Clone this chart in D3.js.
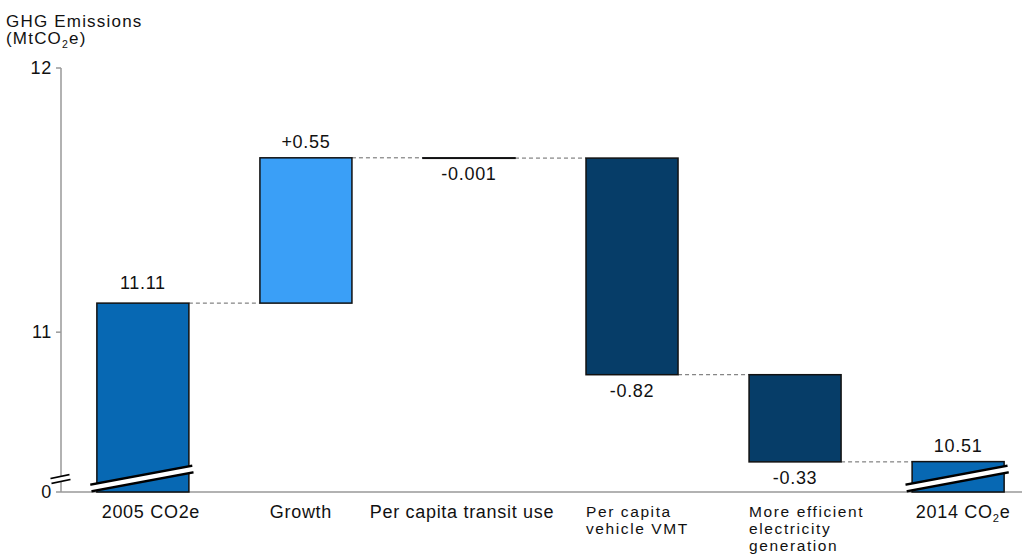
<!DOCTYPE html>
<html>
<head>
<meta charset="utf-8">
<script src="https://cdn.jsdelivr.net/npm/d3@7"></script>
<style>
  body { margin: 0; background: #fff; }
  text { font-family: "Liberation Sans", Arial, sans-serif; fill: #111; letter-spacing: 0.7px; }
</style>
</head>
<body>
<svg id="chart" width="1027" height="556"></svg>
<script>
// data
const categories = ["2005 CO2e", "Growth", "Per capita transit use", "Per capita vehicle VMT", "More efficient electricity generation", "2014 CO2e"];
const labelLines = [["2005 CO2e"], ["Growth"], ["Per capita transit use"], ["Per capita", "vehicle VMT"], ["More efficient", "electricity", "generation"], ["2014 CO_2e"]];
const kinds = ["total", "delta", "delta", "delta", "delta", "total"];
const values = [11.11, 0.55, -0.001, -0.82, -0.33, 10.51];
const valueLabels = ["11.11", "+0.55", "-0.001", "-0.82", "-0.33", "10.51"];
const yTicks = [11, 12];
const axisFloor = 10.395; // shown as "0" (broken axis)

const colors = {total: "#0768b3", up: "#3a9ff7", down: "#063d68"};
const labelNudge = [8, -5, -7, 0, 0, 5];

const svg = d3.select("#chart");
const width = 1027, height = 556;
const margin = {top: 68, right: 7, bottom: 64, left: 61};

var x = d3.scaleBand()
    .domain(categories)
    .range([margin.left, 1040])
    .paddingInner(0.4356)
    .paddingOuter(0.22);

var y = d3.scaleLinear()
    .domain([axisFloor, 12])
    .range([height - margin.bottom, margin.top]);

// build waterfall steps
let running = 0;
const bars = values.map((v, i) => {
    let start, end;
    if (kinds[i] == "total") { start = axisFloor; end = v; running = v; }
    else { start = running; end = running + v; running = end; }
    return {cat: categories[i], kind: kinds[i], value: v, start: start, end: end, label: valueLabels[i], lines: labelLines[i]};
});

function barColor(d) {
    if (d.kind == "total") return colors.total;
    return d.value > 0 ? colors.up : colors.down;
}

// writes "CO_2e" style strings with a lowered small 2
function subText(sel, str, size) {
    const parts = str.split("_");
    sel.append("tspan").text(parts[0]);
    for (let k = 1; k < parts.length; k++) {
        sel.append("tspan").attr("dy", 4).style("font-size", (size * 0.62) + "px").text(parts[k][0]);
        sel.append("tspan").attr("dy", -4).text(parts[k].slice(1));
    }
}

// axes
const axisColor = "#999";
svg.append("line")
    .attr("x1", margin.left).attr("x2", margin.left)
    .attr("y1", y(12)).attr("y2", y(axisFloor))
    .attr("stroke", axisColor).attr("stroke-width", 1.5);
svg.append("line")
    .attr("x1", margin.left).attr("x2", width - 5)
    .attr("y1", y(axisFloor)).attr("y2", y(axisFloor))
    .attr("stroke", axisColor).attr("stroke-width", 1.5);

const tickG = svg.append("g");
[...yTicks, axisFloor].forEach(t => {
    tickG.append("line")
        .attr("x1", margin.left - 5).attr("x2", margin.left)
        .attr("y1", y(t)).attr("y2", y(t))
        .attr("stroke", axisColor).attr("stroke-width", 1.5);
    tickG.append("text")
        .attr("x", margin.left - 9).attr("y", y(t) + 5.5)
        .attr("text-anchor", "end")
        .style("font-size", "18px")
        .text(t == axisFloor ? "0" : t);
});

// axis break marks
function breakMark(x1, y1, x2, y2, thick) {
    svg.append("line").attr("x1", x1).attr("y1", y1).attr("x2", x2).attr("y2", y2)
        .attr("stroke", "#000").attr("stroke-width", thick + 3);
    svg.append("line").attr("x1", x1 - 2).attr("y1", y1 + 0.4).attr("x2", x2 + 2).attr("y2", y2 - 0.4)
        .attr("stroke", "#fff").attr("stroke-width", thick);
}
breakMark(51, y(axisFloor) - 11, 70, y(axisFloor) - 15, 3.5);

// title
svg.append("text").attr("x", 6).attr("y", 27)
    .style("font-size", "17px").style("letter-spacing", "1.2px")
    .text("GHG Emissions");
const t2 = svg.append("text").attr("x", 6).attr("y", 44)
    .style("font-size", "17px").style("letter-spacing", "1.2px");
subText(t2, "(MtCO_2e)", 17);

// connectors
const bw = x.bandwidth();
for (let i = 0; i < bars.length - 1; i++) {
    svg.append("line")
        .attr("x1", x(bars[i].cat) + bw).attr("x2", x(bars[i + 1].cat))
        .attr("y1", y(bars[i].end)).attr("y2", y(bars[i].end))
        .attr("stroke", "#666").attr("stroke-width", 1)
        .attr("stroke-dasharray", "4,3");
}

// bars
svg.selectAll("rect.bar")
    .data(bars)
    .enter()
    .append("rect")
    .attr("class", "bar")
    .attr("x", d => x(d.cat))
    .attr("width", bw)
    .attr("y", d => y(Math.max(d.start, d.end)))
    .attr("height", d => Math.max(0.5, Math.abs(y(d.start) - y(d.end))))
    .attr("fill", d => barColor(d))
    .attr("stroke", "#111")
    .attr("stroke-width", 1.5);

// break bands across total bars
bars.filter(d => d.kind == "total").forEach(d => {
    const x0 = x(d.cat) - 6, x1 = x(d.cat) + bw + 4;
    const yb = y(axisFloor);
    svg.append("line").attr("x1", x0).attr("y1", yb - 4).attr("x2", x1).attr("y2", yb - 23)
        .attr("stroke", "#000").attr("stroke-width", 9);
    svg.append("line").attr("x1", x0 - 2).attr("y1", yb - 3.6).attr("x2", x1 + 2).attr("y2", yb - 23.4)
        .attr("stroke", "#fff").attr("stroke-width", 4.5);
});

// value labels
svg.selectAll("text.val")
    .data(bars)
    .enter()
    .append("text")
    .attr("class", "val")
    .attr("x", d => x(d.cat) + bw / 2)
    .attr("y", d => {
        if (d.kind == "total" || d.value > 0) return y(d.end) - (d.start == axisFloor && d.end > 11 ? 14 : 10);
        return y(d.end) + 22;
    })
    .attr("text-anchor", "middle")
    .style("font-size", "18px")
    .text(d => d.label);

// category labels
bars.forEach((d, i) => {
    const multi = d.lines.length > 1;
    const txt = svg.append("text")
        .attr("x", multi ? x(d.cat) : x(d.cat) + bw / 2 + labelNudge[i])
        .attr("y", y(axisFloor) + (multi ? 25 : 26))
        .attr("text-anchor", multi ? "start" : "middle")
        .style("font-size", multi ? "15.5px" : "18px");
    if (!multi) { subText(txt, d.lines[0], 18); return; }
    txt.style("letter-spacing", "1.6px");
    d.lines.forEach((l, j) => {
        txt.append("tspan")
            .attr("x", x(d.cat))
            .attr("dy", j == 0 ? 0 : 17)
            .text(l);
    });
});
</script>
</body>
</html>
